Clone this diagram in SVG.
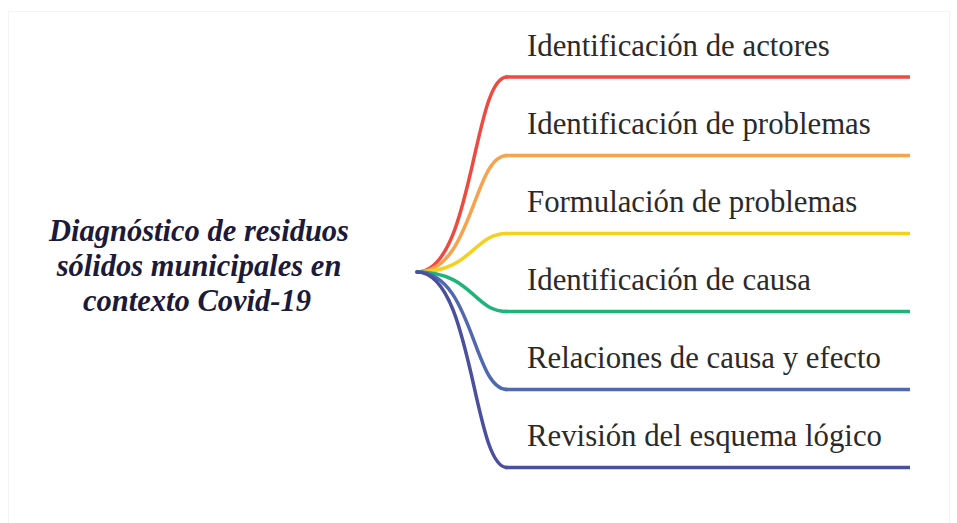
<svg xmlns="http://www.w3.org/2000/svg" width="957" height="523" viewBox="0 0 957 523">
<style>
.bg{fill:#ffffff}
.frame{fill:none;stroke:#f4f4f4;stroke-width:1}
.lbl{font-family:'Liberation Serif','Times New Roman',serif;font-size:30.8px;fill:#2a2a2a}
.root{font-family:'Liberation Serif','Times New Roman',serif;font-size:30.5px;font-weight:bold;font-style:italic;fill:#1b1a3a;text-anchor:middle}
.ln{fill:none;stroke-width:3.5;stroke-linecap:butt}
.c{fill:none;stroke-width:3.5;stroke-linecap:round}
.red{stroke:#ef4a3f}.org{stroke:#f7a24d}.yel{stroke:#f2d11f}.grn{stroke:#1fb57a}.blu{stroke:#5068b0}.nav{stroke:#4a4f9e}
</style>
<rect class="bg" x="0" y="0" width="957" height="523"/>
<rect class="frame" x="8.5" y="11.5" width="941" height="520"/>
<g id="connectors">
<path class="c red" d="M417,272 C473,272 473,77 507,77"/>
<path class="c org" d="M417,272 C473,272 473,155.5 507,155.5"/>
<path class="c yel" d="M417,272 C473,272 473,233.5 507,233.5"/>
<path class="c grn" d="M417,272 C473,272 473,311.5 507,311.5"/>
<path class="c blu" d="M417,272 C473,272 473,389.5 507,389.5"/>
<path class="c nav" d="M417,272 C473,272 473,467.5 507,467.5"/>
</g>
<g id="root">
<text class="root" x="199" y="241">Diagnóstico de residuos</text>
<text class="root" x="199" y="276">sólidos municipales en</text>
<text class="root" x="197" y="311">contexto Covid-19</text>
</g>
<g id="n1"><line class="ln red" x1="505" y1="77" x2="910" y2="77"/><text class="lbl" x="527" y="56">Identificación de actores</text></g>
<g id="n2"><line class="ln org" x1="505" y1="155.5" x2="910" y2="155.5"/><text class="lbl" x="527" y="134">Identificación de problemas</text></g>
<g id="n3"><line class="ln yel" x1="505" y1="233.5" x2="910" y2="233.5"/><text class="lbl" x="527" y="212">Formulación de problemas</text></g>
<g id="n4"><line class="ln grn" x1="505" y1="311.5" x2="910" y2="311.5"/><text class="lbl" x="527" y="290">Identificación de causa</text></g>
<g id="n5"><line class="ln blu" x1="505" y1="389.5" x2="910" y2="389.5"/><text class="lbl" x="527" y="368">Relaciones de causa y efecto</text></g>
<g id="n6"><line class="ln nav" x1="505" y1="467.5" x2="910" y2="467.5"/><text class="lbl" x="527" y="446">Revisión del esquema lógico</text></g>
</svg>
